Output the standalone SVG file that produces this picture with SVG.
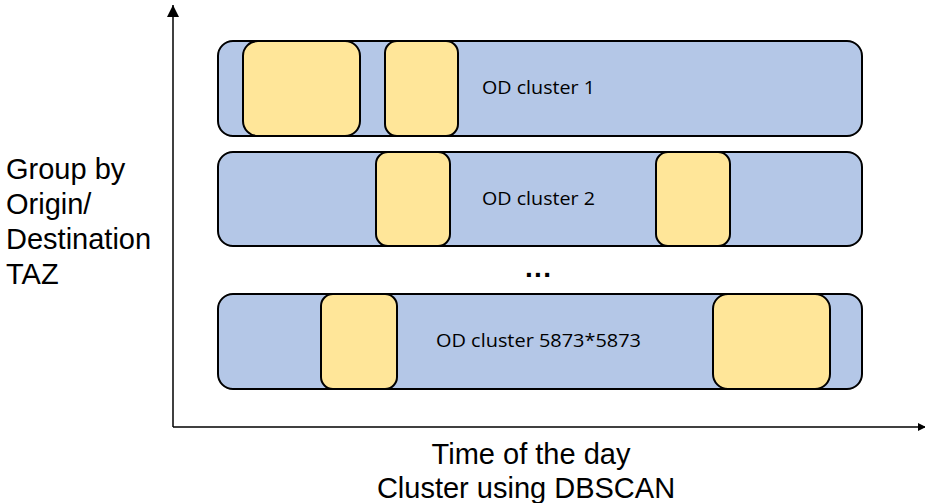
<svg xmlns="http://www.w3.org/2000/svg" width="925" height="503" viewBox="0 0 925 503">
<style>
.bar{fill:#b4c7e7;stroke:#000;stroke-width:2}
.blk{fill:#ffe699;stroke:#000;stroke-width:2}
.lbl{font-family:"Open Sans","Liberation Sans",sans-serif;font-size:18px;fill:#000}
.big{font-family:"Liberation Sans",Arial,sans-serif;font-size:29px;fill:#000}
.axis{stroke:#000;stroke-width:1.5;fill:none}
</style>
<defs>
<marker id="ah" viewBox="0 0 10 10" refX="9" refY="5" markerWidth="8" markerHeight="8" markerUnits="userSpaceOnUse" orient="auto">
<path d="M0,0 L10,5 L0,10 Z" fill="#000"/>
</marker>
<marker id="ah2" viewBox="0 0 10 10" refX="10" refY="5" markerWidth="12" markerHeight="12" markerUnits="userSpaceOnUse" orient="auto">
<path d="M0,0 L10,5 L0,10 Z" fill="#000"/>
</marker>
</defs>
<g id="connectors">
<line class="axis" x1="173" y1="427" x2="173" y2="5" marker-end="url(#ah2)"/>
<line class="axis" x1="173" y1="427" x2="925" y2="427" marker-end="url(#ah)"/>
</g>
<g id="cluster1">
<rect class="bar" x="218" y="41" width="644" height="95" rx="15"/>
<rect class="blk" x="243" y="41" width="117" height="95" rx="15"/>
<rect class="blk" x="385" y="41" width="73" height="95" rx="12"/>
<text class="lbl" x="482" y="94" textLength="113" lengthAdjust="spacingAndGlyphs">OD cluster 1</text>
</g>
<g id="cluster2">
<rect class="bar" x="218" y="152" width="644" height="94" rx="15"/>
<rect class="blk" x="376" y="152" width="74" height="94" rx="12"/>
<rect class="blk" x="656" y="152" width="74" height="94" rx="12"/>
<text class="lbl" x="482" y="205" textLength="113" lengthAdjust="spacingAndGlyphs">OD cluster 2</text>
</g>
<g id="ellipsis">
<text x="538" y="277" text-anchor="middle" font-family="Liberation Sans,Arial,sans-serif" font-size="28" font-weight="bold" textLength="26" lengthAdjust="spacing">...</text>
</g>
<g id="cluster3">
<rect class="bar" x="218" y="294" width="644" height="95" rx="15"/>
<rect class="blk" x="321" y="294" width="76" height="95" rx="12"/>
<rect class="blk" x="713" y="294" width="117" height="95" rx="15"/>
<text class="lbl" x="436" y="347" textLength="205" lengthAdjust="spacingAndGlyphs">OD cluster 5873*5873</text>
</g>
<g id="ylabel">
<text class="big" x="6" y="179">Group by</text>
<text class="big" x="6" y="214">Origin/</text>
<text class="big" x="6" y="249">Destination</text>
<text class="big" x="6" y="284">TAZ</text>
</g>
<g id="xlabel">
<text class="big" x="531" y="464" text-anchor="middle">Time of the day</text>
<text class="big" x="526" y="498" text-anchor="middle">Cluster using DBSCAN</text>
</g>
</svg>
